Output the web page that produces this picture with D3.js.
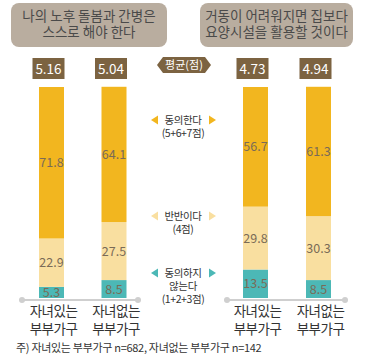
<!DOCTYPE html>
<html>
<head>
<meta charset="utf-8">
<script src="https://cdn.jsdelivr.net/npm/d3@7"></script>
<style>
  body { margin: 0; background: #fff; }
  svg { display: block; font-family: "Noto Sans CJK KR", "Noto Sans", sans-serif; }
</style>
</head>
<body>
<div id="chart"></div>
<script>
// Data
var titles = [['나의 노후 돌봄과 간병은', '스스로 해야 한다'], ['거동이 어려워지면 집보다', '요양시설을 활용할 것이다']];
var categories = ['자녀있는 부부가구', '자녀없는 부부가구'];
var agree = [71.8, 64.1, 56.7, 61.3];
var neutral = [22.9, 27.5, 29.8, 30.3];
var disagree = [5.3, 8.5, 13.5, 8.5];
var means = [5.16, 5.04, 4.73, 4.94];
var legendLabels = [['동의한다', '(5+6+7점)'], ['반반이다', '(4점)'], ['동의하지', '않는다', '(1+2+3점)']];
var note = '주) 자녀있는 부부가구 n=682, 자녀없는 부부가구 n=142';

var width = 369, height = 364;
var colors = { agree: '#f2b61f', neutral: '#f9dfa0', disagree: '#4cb8b6' };
var brown = '#7c6341';

var svg = d3.select('#chart').append('svg')
	.attr('width', width)
	.attr('height', height);

/* Scales */
var y = d3.scaleLinear().domain([0, 100]).range([298, 87]);
var panels = [
	{ x: d3.scalePoint().domain(categories).range([51.5, 114]), box: [11, 167], base: [22, 138] },
	{ x: d3.scalePoint().domain(categories).range([255.5, 318.5]), box: [200, 353], base: [227, 345] }
];
var barW = 25;

// Build one row per bar
var rows = [];
panels.forEach(function(p, pi) {
	categories.forEach(function(c, ci) {
		var i = pi * 2 + ci;
		rows.push({ panel: pi, cat: c, cx: p.x(c), agree: agree[i], neutral: neutral[i], disagree: disagree[i], mean: means[i] });
	});
});
var stack = d3.stack().keys(['disagree', 'neutral', 'agree'])(rows);

/* Title boxes */
panels.forEach(function(p, pi) {
	svg.append('rect')
		.attr('x', p.box[0]).attr('y', 3)
		.attr('width', p.box[1] - p.box[0]).attr('height', 44)
		.attr('rx', 8)
		.attr('fill', '#b9ad9f');
	svg.append('text')
		.attr('x', (p.box[0] + p.box[1]) / 2)
		.attr('text-anchor', 'middle')
		.attr('fill', '#4a4a4a')
		.style('font-size', '13.5px')
		.selectAll('tspan').data(titles[pi]).enter().append('tspan')
		.attr('x', (p.box[0] + p.box[1]) / 2)
		.attr('y', function(d, i) { return 21 + i * 16; })
		.text(function(d) { return d; });

	// baseline
	svg.append('line')
		.attr('x1', p.base[0]).attr('x2', p.base[1])
		.attr('y1', 300).attr('y2', 300)
		.attr('stroke', '#cfcfcf').attr('stroke-width', 2);
	svg.selectAll(null).data(p.base).enter().append('circle')
		.attr('cx', function(d) { return d; }).attr('cy', 300).attr('r', 3)
		.attr('fill', '#cfcfcf');
});

/* Stacked bars */
stack.forEach(function(layer) {
	svg.selectAll(null).data(layer).enter().append('rect')
		.attr('x', function(d) { return d.data.cx - barW / 2; })
		.attr('y', function(d) { return y(d[1]); })
		.attr('width', barW)
		.attr('height', function(d) { return y(d[0]) - y(d[1]); })
		.attr('fill', colors[layer.key]);
	svg.selectAll(null).data(layer).enter().append('text')
		.attr('x', function(d) { return d.data.cx; })
		.attr('y', function(d) { return (y(d[0]) + y(d[1])) / 2 + 4.5; })
		.attr('text-anchor', 'middle')
		.attr('fill', '#7a6b57')
		.style('font-size', '12.5px')
		.text(function(d) { return d3.format('.1f')(d.data[layer.key]); });
});

/* Mean boxes (sit slightly left of the bars) */
svg.selectAll(null).data(rows).enter().append('rect')
	.attr('x', function(d) { return d.cx - 19; })
	.attr('y', 58)
	.attr('width', 32).attr('height', 21)
	.attr('fill', brown);
svg.selectAll(null).data(rows).enter().append('text')
	.attr('x', function(d) { return d.cx - 3; })
	.attr('y', 73.5)
	.attr('text-anchor', 'middle')
	.attr('fill', '#fff')
	.style('font-size', '13.5px')
	.text(function(d) { return d3.format('.2f')(d.mean); });

// 평균(점) tag
var tx = 184, ty = 65;
svg.append('path')
	.attr('d', 'M' + (tx - 27) + ',' + ty + ' L' + (tx - 21) + ',' + (ty - 8) + ' L' + (tx + 21) + ',' + (ty - 8) +
		' L' + (tx + 27) + ',' + ty + ' L' + (tx + 21) + ',' + (ty + 8) + ' L' + (tx - 21) + ',' + (ty + 8) + 'Z')
	.attr('fill', brown);
svg.append('text')
	.attr('x', tx).attr('y', ty + 4)
	.attr('text-anchor', 'middle')
	.attr('fill', '#fff')
	.style('font-size', '11px')
	.text('평균(점)');

/* Middle legend */
var legendY = [124, 220, 277];
var legendColors = [colors.agree, colors.neutral, colors.disagree];
legendLabels.forEach(function(lines, li) {
	var g = svg.append('g');
	g.append('text')
		.attr('text-anchor', 'middle')
		.attr('fill', '#333')
		.style('font-size', '10.5px')
		.style('letter-spacing', '-0.4px')
		.selectAll('tspan').data(lines).enter().append('tspan')
		.attr('x', 183)
		.attr('y', function(d, i) { return legendY[li] + i * 13; })
		.text(function(d) { return d; });
	var ly = legendY[li] - 4;
	g.append('path')
		.attr('d', 'M151,' + ly + ' L158,' + (ly - 4.5) + ' L158,' + (ly + 4.5) + 'Z')
		.attr('fill', legendColors[li]);
	g.append('path')
		.attr('d', 'M216,' + ly + ' L209,' + (ly - 4.5) + ' L209,' + (ly + 4.5) + 'Z')
		.attr('fill', legendColors[li]);
});

/* Category labels */
svg.selectAll(null).data(rows).enter().append('text')
	.attr('text-anchor', 'middle')
	.attr('fill', '#333')
	.style('font-size', '13.5px')
	.style('letter-spacing', '-0.5px')
	.each(function(d) {
		var words = d.cat.split(' ');
		d3.select(this).selectAll('tspan').data(words).enter().append('tspan')
			.attr('x', d.cx + 2)
			.attr('y', function(w, i) { return 316 + i * 18; })
			.text(function(w) { return w; });
	});

/* Note */
svg.append('text')
	.attr('x', 16).attr('y', 352)
	.attr('fill', '#333')
	.style('font-size', '11px')
	.style('letter-spacing', '-0.3px')
	.text(note);
</script>
</body>
</html>
